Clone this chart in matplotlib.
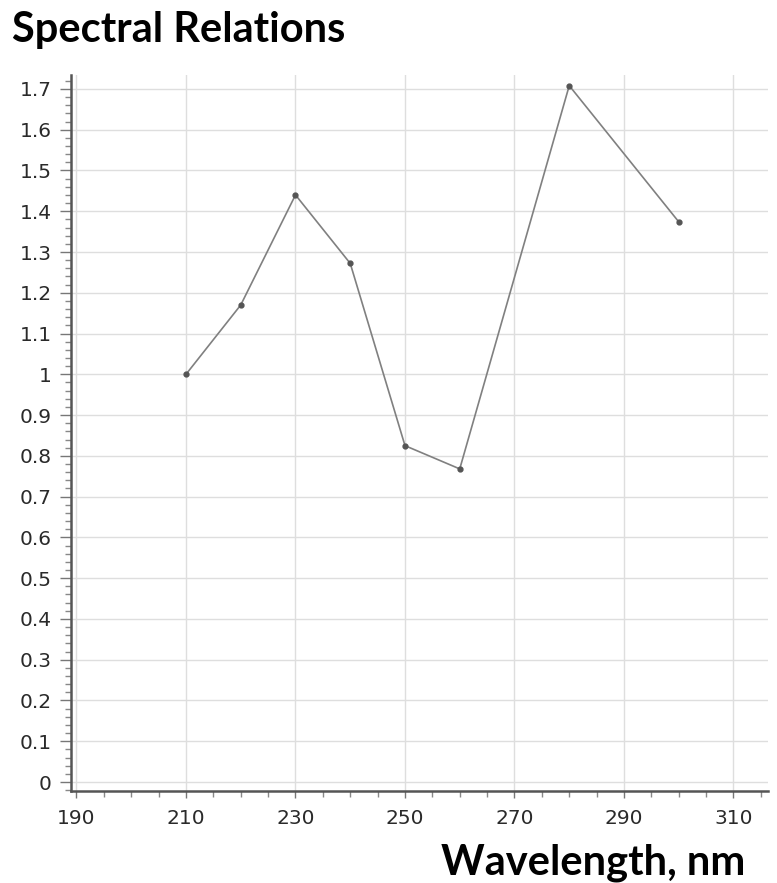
from matplotlib import pyplot as plt
from matplotlib.ticker import MultipleLocator, FuncFormatter
import numpy as np

plt.rcParams['font.family'] = ['DejaVu Sans']

# values
wavelength = [210, 220, 230, 240, 250, 260, 280, 300]
relation = [1.0, 1.17, 1.44, 1.272, 0.825, 0.768, 1.708, 1.374]

title = "Spectral Relations"
xlabel = "Wavelength, nm"

fig = plt.figure(figsize=(7.77, 8.83), dpi=100)
ax = fig.add_axes([0.0914, 0.1042, 0.8970, 0.8108])

ax.plot(wavelength, relation, color='#808080', lw=1.2,
		marker='o', ms=3.5, mfc='#555555', mec='#555555', zorder=3)

ax.set_xlim(189, 316.3)
ax.set_ylim(-0.022, 1.734)

ax.xaxis.set_major_locator(MultipleLocator(20, offset=10))
ax.xaxis.set_minor_locator(MultipleLocator(5))
ax.yaxis.set_major_locator(MultipleLocator(0.1))
ax.yaxis.set_minor_locator(MultipleLocator(0.02))

def fmt(v, pos):
	s = f"{v:.1f}"
	if s.endswith('.0'):
		s = s[:-2]
	return s
ax.yaxis.set_major_formatter(FuncFormatter(fmt))

ax.grid(True, which='major', color='#dedede', lw=1.0)
ax.set_axisbelow(True)

for side in ['top', 'right']:
	ax.spines[side].set_visible(False)
for side in ['left', 'bottom']:
	ax.spines[side].set_color('#555555')
	ax.spines[side].set_linewidth(1.8)

ax.tick_params(which='major', direction='out', length=8, width=1, color='#777777',
			   labelsize=14.5, labelcolor='#2a2a2a', pad=6)
ax.tick_params(which='minor', direction='out', length=4, width=1, color='#888888')
ax.tick_params(axis='x', which='major', length=5, pad=8)

fig.text(0.016, 0.952, title, fontsize=30, fontweight='bold', family='Lato',
		 ha='left', va='baseline', color='black')
fig.text(0.959, 0.010, xlabel, fontsize=30, fontweight='bold', family='Lato',
		 ha='right', va='baseline', color='black')

plt.savefig('out.png', dpi=100)
